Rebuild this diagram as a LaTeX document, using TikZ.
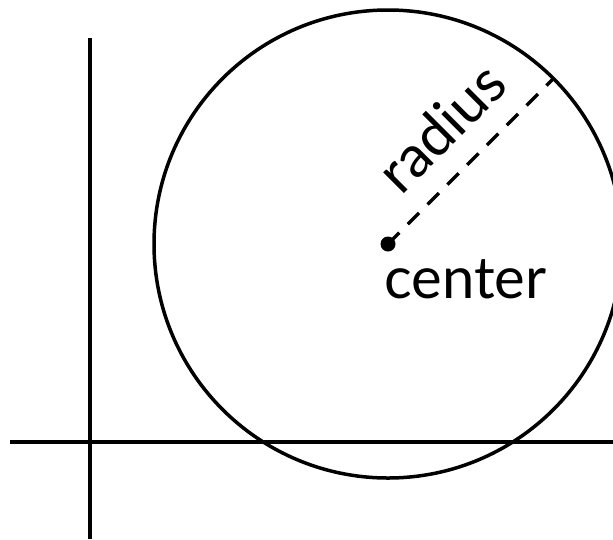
\documentclass[tikz,border=0pt]{standalone}
\usepackage{fontspec}
\setmainfont{Lato}
\usetikzlibrary{calc}
\begin{document}
\begin{tikzpicture}[x=1pt,y=-1pt,
  axis/.style={line width=4pt},
  circ/.style={line width=3.5pt},
  rad/.style={line width=3.5pt, dash pattern=on 16pt off 12pt},
  lbl/.style={font=\fontsize{58}{66}\selectfont, inner sep=0pt}]
\useasboundingbox (0,0) rectangle (613,539);
\coordinate (vtop) at (90,38);
\coordinate (vbot) at (90,539);
\coordinate (hl) at (10,442);
\coordinate (hr) at (613,442);
\coordinate (c) at (388,244);
\coordinate (rend) at ($(c)+(-45:234)$);
\draw[axis] (vtop) -- (vbot);
\draw[axis] (hl) -- (hr);
\draw[circ] (c) circle[radius=234];
\draw[rad] (c) -- (rend);
\fill (c) circle[radius=7.5];
\node[lbl, anchor=base west] (ctext) at (384,298) {center};
\node[lbl, rotate=45, anchor=center] (rtext) at (441,127) {radius};
\end{tikzpicture}
\end{document}
